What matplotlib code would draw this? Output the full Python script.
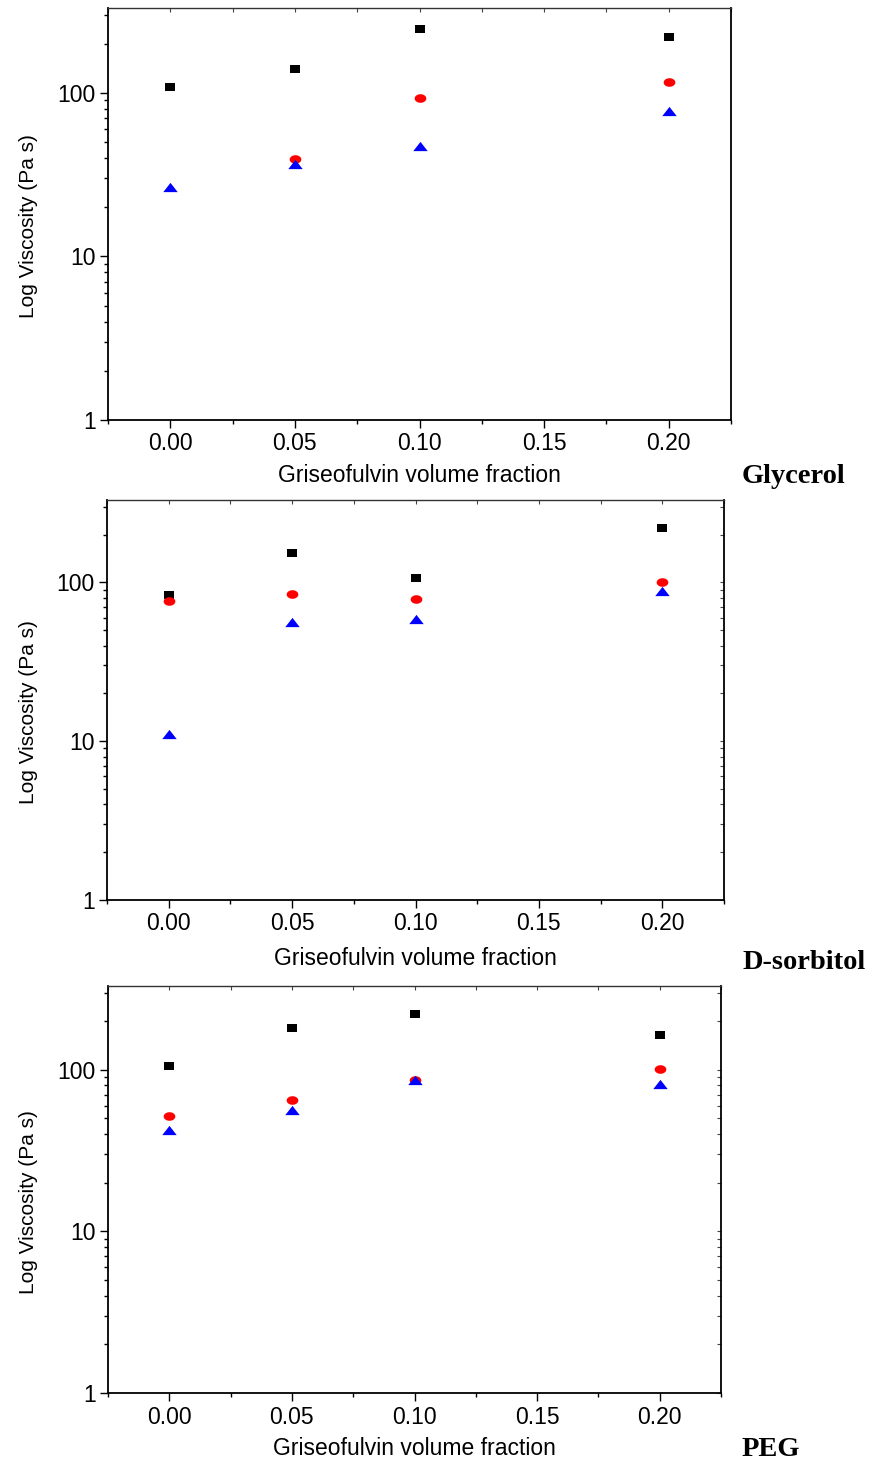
import numpy as np
import matplotlib
matplotlib.use("Agg")
import matplotlib.pyplot as plt
from matplotlib.path import Path
from matplotlib.ticker import LogLocator, FuncFormatter, MultipleLocator, NullFormatter

# Griseofulvin volume fraction (x values shared by all panels)
fraction = [0.00, 0.05, 0.10, 0.20]

# Viscosity (Pa s) per excipient, three measurement series each
glycerol_sq = [109, 140, 246, 219]
glycerol_ci = [np.nan, 39.3, 93, 117]
glycerol_tr = [26.4, 36.8, 47.4, 77.6]

sorbitol_sq = [83, 154, 107, 219]
sorbitol_ci = [76, 85, 79, 100]
sorbitol_tr = [11.1, 56, 58.9, 88.5]

peg_sq = [106, 181, 223, 165]
peg_ci = [52, 64.6, 87, 101]
peg_tr = [42.7, 56.6, 86, 82]

panel_names = ["Glycerol", "D-sorbitol", "PEG"]
x_ticks = [0.00, 0.05, 0.10, 0.15, 0.20]
x_tick_labels = ["0.00", "0.05", "0.10", "0.15", "0.20"]

W, H = 871, 1463
fig = plt.figure(figsize=(W / 100, H / 100), dpi=100)

# axes boxes in pixels: left, right, top, bottom
boxes = [(108, 731, 8, 420), (107, 724, 500, 900), (108, 721, 986, 1393)]
name_baselines = [483, 969, 1456]
xlabel_tops = [464, 947, 1437]
right_ticks = [False, True, True]

# slightly wide marker shapes
sq_path = Path([(-0.6, -0.5), (0.6, -0.5), (0.6, 0.5), (-0.6, 0.5), (-0.6, -0.5)], closed=True)
t = np.linspace(0, 2 * np.pi, 60)
ci_path = Path(np.column_stack([0.68 * np.cos(t), 0.5 * np.sin(t)]), closed=True)
tr_path = Path([(0.0, 0.5), (-0.78, -0.5), (0.78, -0.5), (0.0, 0.5)], closed=True)

series = [
    (glycerol_sq, glycerol_ci, glycerol_tr),
    (sorbitol_sq, sorbitol_ci, sorbitol_tr),
    (peg_sq, peg_ci, peg_tr),
]

sans = "Liberation Sans"
for i, ((l, r, t_, b), (sq, ci, tr)) in enumerate(zip(boxes, series)):
    ax = fig.add_axes([l / W, 1 - b / H, (r - l) / W, (b - t_) / H])
    ax.plot(fraction, sq, linestyle="none", marker=sq_path, markersize=7.6,
            color="black", markeredgewidth=0, zorder=3)
    ax.plot(fraction, ci, linestyle="none", marker=ci_path, markersize=8.4,
            color="#ff0000", markeredgewidth=0, zorder=4)
    ax.plot(fraction, tr, linestyle="none", marker=tr_path, markersize=10.4,
            color="#0000ff", markeredgewidth=0, zorder=5)

    ax.set_yscale("log")
    ax.set_ylim(1, 330)
    ax.set_xlim(-0.025, 0.225)

    ax.set_xticks(x_ticks)
    ax.set_xticklabels(x_tick_labels, fontfamily=sans, fontsize=16.5)
    ax.xaxis.set_minor_locator(MultipleLocator(0.025))
    ax.yaxis.set_major_locator(LogLocator(base=10))
    ax.yaxis.set_minor_locator(LogLocator(base=10, subs=np.arange(2, 10)))
    ax.yaxis.set_major_formatter(FuncFormatter(lambda v, p: f"{v:g}"))
    ax.yaxis.set_minor_formatter(NullFormatter())
    for lab in ax.get_yticklabels():
        lab.set_fontfamily(sans)
        lab.set_fontsize(16.5)

    ax.tick_params(which="both", direction="out", top=False, right=False, width=1.0, color="black")
    ax.tick_params(which="major", length=6, pad=3)
    ax.tick_params(which="minor", length=3)

    # inward ticks on top (and right) edges
    sec = ax.secondary_xaxis("top")
    sec.set_xticks(x_ticks)
    sec.xaxis.set_minor_locator(MultipleLocator(0.025))
    sec.tick_params(which="both", direction="in", length=3, width=0.8, labeltop=False, color="#444444")
    sec.spines["top"].set_visible(False)
    if right_ticks[i]:
        secy = ax.secondary_yaxis("right")
        secy.yaxis.set_major_locator(LogLocator(base=10))
        secy.yaxis.set_minor_locator(LogLocator(base=10, subs=np.arange(2, 10)))
        secy.tick_params(which="both", direction="in", length=3, width=0.8, labelright=False, color="#444444")
        secy.spines["right"].set_visible(False)

    for s in ax.spines.values():
        s.set_linewidth(1.3)
    ax.spines["top"].set_linewidth(1.0)
    ax.spines["top"].set_color("#333333")

    ax.set_xlabel("Griseofulvin volume fraction", fontfamily=sans, fontsize=16.5)
    ax.xaxis.set_label_coords(0.5, (b - xlabel_tops[i]) / (b - t_))
    ax.set_ylabel("Log Viscosity (Pa s)", fontfamily=sans, fontsize=15)
    ax.yaxis.set_label_coords((38 - l) / (r - l), 0.47)

    fig.text(742 / W, 1 - name_baselines[i] / H, panel_names[i], fontfamily="Liberation Serif",
             fontweight="bold", fontsize=20.5, ha="left", va="baseline")

fig.savefig("out.png", dpi=100)
